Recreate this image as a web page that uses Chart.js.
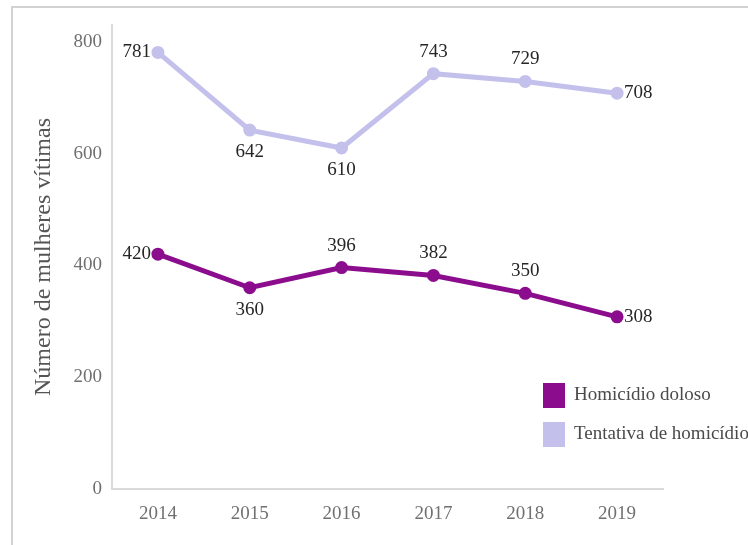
<!DOCTYPE html>
<html>
<head>
<meta charset="utf-8">
<script src="https://cdn.jsdelivr.net/npm/chart.js@4/dist/chart.umd.min.js"></script>
<style>
    html, body { margin: 0; padding: 0; background: #fff; }
    #wrap { width: 748px; height: 545px; }
</style>
</head>
<body>
<div id="wrap"><canvas id="victimsChart" width="748" height="545"></canvas></div>
<script>
// Anos e valores
const years = ['2014', '2015', '2016', '2017', '2018', '2019'];
const homicidioDoloso = [420, 360, 396, 382, 350, 308];
const tentativaHomicidio = [781, 642, 610, 743, 729, 708];
const yTicks = [0, 200, 400, 600, 800];

const serif = 'Liberation Serif, Times New Roman, serif';

// Light frame round the figure (left and top edges)
const framePlugin = {
    id: 'frame',
    beforeDraw(chart) {
        const ctx = chart.ctx;
        ctx.save();
        ctx.strokeStyle = '#d2d2d2';
        ctx.lineWidth = 2;
        ctx.beginPath();
        ctx.moveTo(12, chart.height);
        ctx.lineTo(12, 7);
        ctx.lineTo(chart.width, 7);
        ctx.stroke();
        ctx.restore();
    }
};

// Value labels next to each point
const valueLabels = {
    id: 'valueLabels',
    afterDatasetsDraw(chart) {
        const ctx = chart.ctx;
        ctx.save();
        ctx.font = '19px ' + serif;
        ctx.fillStyle = '#262626';
        chart.data.datasets.forEach((ds, i) => {
            const meta = chart.getDatasetMeta(i);
            meta.data.forEach((pt, j) => {
                const pos = ds.labelPos[j];
                let x = pt.x, y = pt.y;
                ctx.textBaseline = 'middle';
                if (pos === 'left') { ctx.textAlign = 'right'; x -= 7; }
                else if (pos === 'right') { ctx.textAlign = 'left'; x += 7; }
                else if (pos === 'above') { ctx.textAlign = 'center'; y -= 22; }
                else { ctx.textAlign = 'center'; y += 22; }
                ctx.fillText(String(ds.data[j]), x, y);
            });
        });
        ctx.restore();
    }
};

// Legend drawn inside the plot, lower right
const boxLegend = {
    id: 'boxLegend',
    afterDraw(chart) {
        const ctx = chart.ctx;
        const area = chart.chartArea;
        const x0 = area.right - 120;
        ctx.save();
        ctx.font = '19px ' + serif;
        ctx.textAlign = 'left';
        ctx.textBaseline = 'middle';
        chart.data.datasets.forEach((ds, i) => {
            const cy = area.top + 370 + i * 39;
            ctx.fillStyle = ds.borderColor;
            ctx.fillRect(x0, cy - 12, 22, 25);
            ctx.fillStyle = '#4a4a4a';
            ctx.fillText(ds.label, x0 + 31, cy);
        });
        ctx.restore();
    }
};

new Chart(document.getElementById('victimsChart'), {
    type: 'line',
    data: {
        labels: years,
        datasets: [
            {
                label: 'Homicídio doloso',
                data: homicidioDoloso,
                borderColor: '#8b0d8e',
                backgroundColor: '#8b0d8e',
                borderWidth: 5,
                pointRadius: 4,
                pointHoverRadius: 4,
                labelPos: ['left', 'below', 'above', 'above', 'above', 'right'],
            },
            {
                label: 'Tentativa de homicídio',
                data: tentativaHomicidio,
                borderColor: '#c4c0ec',
                backgroundColor: '#c4c0ec',
                borderWidth: 5,
                pointRadius: 4,
                pointHoverRadius: 4,
                labelPos: ['left', 'below', 'below', 'above', 'above', 'right'],
            },
        ],
    },
    options: {
        responsive: false,
        animation: false,
        layout: { padding: { top: 25, right: 85, bottom: 0, left: 0 } },
        plugins: {
            legend: { display: false },
            tooltip: { enabled: false },
        },
        scales: {
            x: {
                offset: true,
                grid: { display: false, drawTicks: false },
                border: { display: true, color: '#d9d9d9', width: 2 },
                ticks: {
                    color: '#707070',
                    font: { family: serif, size: 19 },
                    padding: 14,
                    maxRotation: 0,
                },
                afterFit(scale) { scale.height = 56; },
            },
            y: {
                min: 0,
                max: 830,
                grid: { display: false, drawTicks: false },
                border: { display: true, color: '#d9d9d9', width: 2 },
                ticks: {
                    color: '#707070',
                    font: { family: serif, size: 19 },
                    padding: 10,
                },
                afterBuildTicks(scale) {
                    scale.ticks = yTicks.map(v => ({ value: v }));
                },
                title: {
                    display: true,
                    text: 'Número de mulheres vítimas',
                    color: '#555',
                    font: { family: serif, size: 24 },
                    padding: { top: 29, bottom: 0 },
                },
                afterFit(scale) { scale.width = 112; },
            },
        },
    },
    plugins: [framePlugin, valueLabels, boxLegend],
});
</script>
</body>
</html>
